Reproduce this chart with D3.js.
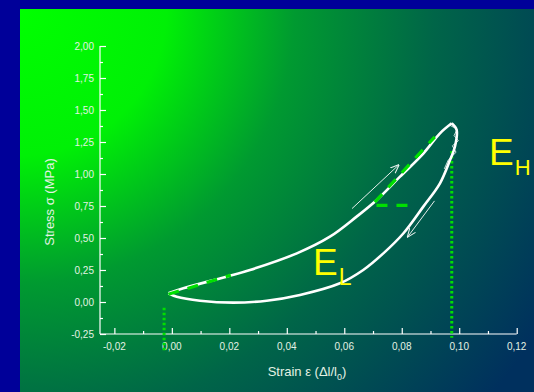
<!DOCTYPE html>
<html>
<head>
<meta charset="utf-8">
<script src="https://cdn.jsdelivr.net/npm/d3@7"></script>
<style>
  body { margin: 0; background: #000099; }
  svg { display: block; font-family: "Liberation Sans", Arial, sans-serif; }
</style>
</head>
<body>
<svg id="chart" width="534" height="392"></svg>
<script>
// loading branch (strain, stress)
var loadStrain = [-0.0012, 0.004, 0.019, 0.0272, 0.0435, 0.055, 0.0643, 0.0713, 0.0794, 0.0875, 0.0933, 0.0974];
var loadStress = [0.068, 0.107, 0.198, 0.25, 0.38, 0.51, 0.667, 0.797, 0.979, 1.16, 1.318, 1.396];
// unloading branch
var unloadStrain = [0.0974, 0.0991, 0.0985, 0.0968, 0.0933, 0.0875, 0.0806, 0.0736, 0.0666, 0.0585, 0.0446, 0.033, 0.0214, 0.0098, 0.0017, -0.0012];
var unloadStress = [1.396, 1.344, 1.213, 1.109, 0.927, 0.745, 0.537, 0.38, 0.25, 0.146, 0.055, 0.01, -0.005, 0.01, 0.041, 0.068];
// noisy scribble near the peak
var peakStrain = [0.0968, 0.0993, 0.0982, 0.0997, 0.0976, 0.0989, 0.0962, 0.0948];
var peakStress = [1.38, 1.35, 1.30, 1.26, 1.22, 1.17, 1.11, 1.04];

// tangent lines (modulus) and guides
var tangentLow = [[-0.0012, 0.06], [0.0205, 0.21]];
var tangentHigh = [[0.0706, 0.78], [0.0915, 1.29]];
var slopeFoot = [[0.0712, 0.755], [0.0838, 0.755]];
var dropLines = [{x: -0.0027, y0: -0.045, y1: -0.39}, {x: 0.0974, y0: 1.18, y1: -0.28}];
var arrowUp = [[0.0627, 0.73], [0.0789, 1.07]];
var arrowDown = [[0.0914, 0.79], [0.0821, 0.51]];

var xTicks = [-0.02, 0, 0.02, 0.04, 0.06, 0.08, 0.10, 0.12];
var yTicks = [-0.25, 0, 0.25, 0.5, 0.75, 1.0, 1.25, 1.5, 1.75, 2.0];

var svg = d3.select("#chart");
var fmt = function(d){ return d3.format(".2f")(d).replace(".", ",").replace("−", "-"); };

// background panel with gradient
var defs = svg.append("defs");
var grad = defs.append("radialGradient")
  .attr("id", "bg").attr("gradientUnits", "userSpaceOnUse")
  .attr("cx", 20).attr("cy", 9).attr("r", 610);
[[0, "#00ff00"], [0.24, "#00f006"], [0.45, "#009a30"], [0.68, "#006548"], [1, "#00305e"]]
  .forEach(function(s){ grad.append("stop").attr("offset", s[0]).attr("stop-color", s[1]); });
defs.append("marker").attr("id", "arr").attr("viewBox", "0 0 10 10")
  .attr("refX", 9).attr("refY", 5).attr("markerWidth", 9).attr("markerHeight", 9)
  .attr("orient", "auto").attr("markerUnits", "userSpaceOnUse")
  .append("path").attr("d", "M0,1 L10,5 L0,9").attr("fill", "none").attr("stroke", "#fff").attr("stroke-width", 1.2);

svg.append("rect").attr("x", 20).attr("y", 9).attr("width", 514).attr("height", 383).attr("fill", "url(#bg)");

var x = d3.scaleLinear().domain([-0.025, 0.12]).range([100, 516.7]);
var y = d3.scaleLinear().domain([-0.25, 2.0]).range([334, 46]);

var txt = "#e4f2e4";

// y axis
var yAxis = svg.append("g").attr("transform", "translate(100,0)")
  .call(d3.axisRight(y).tickValues(d3.range(-0.25, 2.001, 0.125)).tickSize(5).tickFormat(""));
yAxis.select(".domain").attr("stroke", "#fff").attr("stroke-width", 1.2).attr("d", "M0," + y(-0.25) + "V" + y(2.0));
yAxis.selectAll(".tick line").attr("stroke", "#fff").attr("stroke-width", 1.2)
  .attr("x2", function(d){ return Math.abs(d * 4 - Math.round(d * 4)) < 1e-6 ? 6 : 3; });
svg.append("g").selectAll("text").data(yTicks).join("text")
  .attr("x", 94).attr("y", function(d){ return y(d) + 3.5; })
  .attr("text-anchor", "end").attr("font-size", 10).attr("fill", txt).text(fmt);

// x axis
var xAxis = svg.append("g").attr("transform", "translate(0,334)")
  .call(d3.axisTop(x).tickValues(d3.range(-0.02, 0.1201, 0.01)).tickSize(5).tickFormat(""));
xAxis.select(".domain").attr("stroke", "#fff").attr("stroke-width", 1.2).attr("d", "M" + x(-0.025) + ",0H" + x(0.12));
xAxis.selectAll(".tick line").attr("stroke", "#fff").attr("stroke-width", 1.2)
  .attr("y2", function(d){ return Math.abs(d * 50 - Math.round(d * 50)) < 1e-6 ? -6 : -3; });
svg.append("g").selectAll("text").data(xTicks).join("text")
  .attr("x", function(d){ return x(d); }).attr("y", 350)
  .attr("text-anchor", "middle").attr("font-size", 10).attr("fill", txt).text(fmt);

// axis titles
svg.append("text").attr("transform", "translate(54,202) rotate(-90)")
  .attr("text-anchor", "middle").attr("font-size", 13).attr("fill", txt).text("Stress σ (MPa)");
var xt = svg.append("text").attr("x", 307).attr("y", 376).attr("text-anchor", "middle")
  .attr("font-size", 13).attr("fill", txt);
xt.append("tspan").text("Strain ε (Δl/l");
xt.append("tspan").attr("font-size", 9).attr("dy", 4).text("0");
xt.append("tspan").attr("dy", -4).text(")");

// drop lines (dotted green)
svg.append("g").selectAll("line").data(dropLines).join("line")
  .attr("x1", function(d){ return x(d.x); }).attr("x2", function(d){ return x(d.x); })
  .attr("y1", function(d){ return y(d.y0); }).attr("y2", function(d){ return y(d.y1); })
  .attr("stroke", "#00e000").attr("stroke-width", 3).attr("stroke-dasharray", "2.5,2.5");

// hysteresis loop
var line = d3.line().x(function(d){ return x(d[0]); }).y(function(d){ return y(d[1]); }).curve(d3.curveCatmullRom);
var zip = function(a, b){ return a.map(function(v, i){ return [v, b[i]]; }); };
svg.append("path").datum(zip(loadStrain, loadStress)).attr("d", line)
  .attr("fill", "none").attr("stroke", "#fff").attr("stroke-width", 2.6);
svg.append("path").datum(zip(unloadStrain, unloadStress)).attr("d", line)
  .attr("fill", "none").attr("stroke", "#fff").attr("stroke-width", 2.6);
svg.append("path").datum(zip(peakStrain, peakStress)).attr("d", d3.line().x(function(d){ return x(d[0]); }).y(function(d){ return y(d[1]); }))
  .attr("fill", "none").attr("stroke", "#fff").attr("stroke-width", 1).attr("opacity", 0.8);

// tangents
var lin = d3.line().x(function(d){ return x(d[0]); }).y(function(d){ return y(d[1]); });
[tangentLow, tangentHigh, slopeFoot].forEach(function(t){
  svg.append("path").datum(t).attr("d", lin).attr("fill", "none")
    .attr("stroke", "#00e000").attr("stroke-width", 3.2).attr("stroke-dasharray", "11,9");
});

// direction arrows
[arrowUp, arrowDown].forEach(function(a){
  svg.append("path").datum(a).attr("d", lin).attr("stroke", "#fff").attr("stroke-width", 1)
    .attr("opacity", 0.9).attr("marker-end", "url(#arr)");
});

// labels
function modLabel(px, py, sub, subSize){
  var t = svg.append("text").attr("x", px).attr("y", py).attr("font-size", 37).attr("fill", "#ffff00");
  t.append("tspan").text("E");
  t.append("tspan").attr("font-size", subSize).attr("dy", 10).attr("dx", 1).text(sub);
}
modLabel(313, 275, "L", 23);
modLabel(489, 165, "H", 22);
</script>
</body>
</html>
